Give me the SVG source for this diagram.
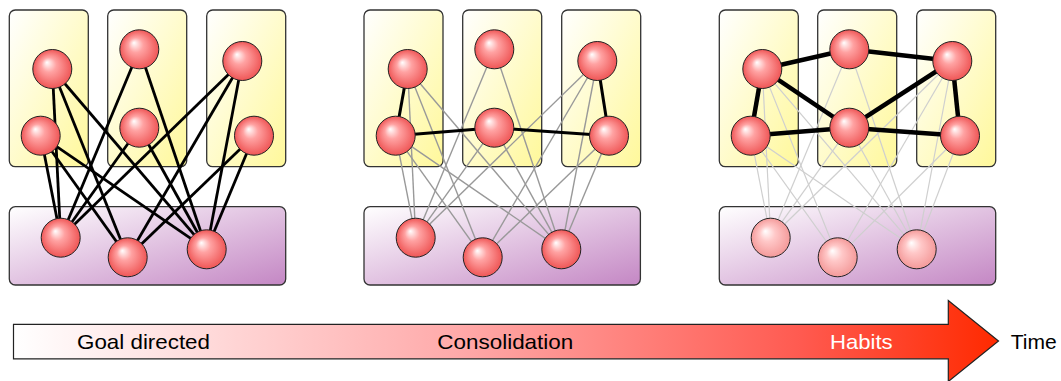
<svg xmlns="http://www.w3.org/2000/svg" width="1061" height="381" viewBox="0 0 1061 381">
<defs>
<linearGradient id="gY" x1="0" y1="0" x2="1" y2="1"><stop offset="0" stop-color="#ffffff"/><stop offset="1" stop-color="#fff89a"/></linearGradient>
<linearGradient id="gP" x1="0" y1="0" x2="1" y2="1"><stop offset="0" stop-color="#ffffff"/><stop offset="1" stop-color="#c487c4"/></linearGradient>
<radialGradient id="gN" cx="0.5" cy="0.5" r="0.5" fx="0.36" fy="0.33"><stop offset="0" stop-color="#ffffff"/><stop offset="0.38" stop-color="#ffa2a2"/><stop offset="1" stop-color="#ef5656"/></radialGradient>
<radialGradient id="gF" cx="0.5" cy="0.5" r="0.5" fx="0.36" fy="0.33"><stop offset="0" stop-color="#ffffff"/><stop offset="0.4" stop-color="#ffc8c8"/><stop offset="1" stop-color="#f49a9a"/></radialGradient>
<linearGradient id="gA" x1="14" y1="0" x2="998" y2="0" gradientUnits="userSpaceOnUse"><stop offset="0" stop-color="#ffffff"/><stop offset="0.45" stop-color="#ffaaaa"/><stop offset="0.8" stop-color="#ff5a50"/><stop offset="1" stop-color="#ff2a00"/></linearGradient>
</defs>
<style>
.by{fill:url(#gY);stroke:#333;stroke-width:1.3}
.bp{fill:url(#gP);stroke:#333;stroke-width:1.3}
.n{fill:url(#gN);stroke:#222;stroke-width:1}
.f{fill:url(#gF);stroke:#222;stroke-width:1}
.k{stroke:#000;stroke-width:2.8;fill:none}
.k2{stroke:#000;stroke-width:3;fill:none}
.k3{stroke:#000;stroke-width:4.5;fill:none}
.g{stroke:#999;stroke-width:1.4;fill:none}
.g3{stroke:#cfcfcf;stroke-width:1.2;fill:none}
.t{font-family:"Liberation Sans",Arial,sans-serif;font-size:21px}
</style>

<g id="regions">
<rect class="by" x="9.3" y="10" width="79" height="156.7" rx="6"/>
<rect class="by" x="107.7" y="10" width="79" height="156.7" rx="6"/>
<rect class="by" x="206.7" y="10" width="79" height="156.7" rx="6"/>
<rect class="bp" x="9.3" y="206.7" width="276.4" height="78.3" rx="6"/>
<rect class="by" x="364" y="10" width="79" height="156.7" rx="6"/>
<rect class="by" x="462.7" y="10" width="79" height="156.7" rx="6"/>
<rect class="by" x="561.7" y="10" width="79" height="156.7" rx="6"/>
<rect class="bp" x="364" y="206.7" width="276.4" height="78.3" rx="6"/>
<rect class="by" x="719.3" y="10" width="79" height="156.7" rx="6"/>
<rect class="by" x="817.7" y="10" width="79" height="156.7" rx="6"/>
<rect class="by" x="916.7" y="10" width="79" height="156.7" rx="6"/>
<rect class="bp" x="719.3" y="206.7" width="276.4" height="78.3" rx="6"/>
</g>

<g id="connectors">
<g class="k">
<line x1="52.3" y1="69" x2="60.7" y2="237.7"/><line x1="52.3" y1="69" x2="127.7" y2="257.3"/><line x1="52.3" y1="69" x2="206.7" y2="249.3"/>
<line x1="40.7" y1="135.7" x2="60.7" y2="237.7"/><line x1="40.7" y1="135.7" x2="127.7" y2="257.3"/><line x1="40.7" y1="135.7" x2="206.7" y2="249.3"/>
<line x1="139.3" y1="49.3" x2="60.7" y2="237.7"/><line x1="139.3" y1="49.3" x2="206.7" y2="249.3"/>
<line x1="139.3" y1="127.7" x2="60.7" y2="237.7"/><line x1="139.3" y1="127.7" x2="206.7" y2="249.3"/>
<line x1="242.3" y1="61" x2="60.7" y2="237.7"/><line x1="242.3" y1="61" x2="127.7" y2="257.3"/><line x1="242.3" y1="61" x2="206.7" y2="249.3"/>
<line x1="254" y1="135.7" x2="127.7" y2="257.3"/><line x1="254" y1="135.7" x2="206.7" y2="249.3"/>
</g>
<g class="g">
<line x1="407.7" y1="69" x2="415.7" y2="237.7"/><line x1="407.7" y1="69" x2="482.7" y2="257.3"/><line x1="407.7" y1="69" x2="561.3" y2="249.3"/>
<line x1="395.7" y1="135.7" x2="415.7" y2="237.7"/><line x1="395.7" y1="135.7" x2="482.7" y2="257.3"/><line x1="395.7" y1="135.7" x2="561.3" y2="249.3"/>
<line x1="494.3" y1="49.3" x2="415.7" y2="237.7"/><line x1="494.3" y1="49.3" x2="561.3" y2="249.3"/>
<line x1="494.3" y1="127.7" x2="415.7" y2="237.7"/><line x1="494.3" y1="127.7" x2="561.3" y2="249.3"/>
<line x1="597.3" y1="61" x2="415.7" y2="237.7"/><line x1="597.3" y1="61" x2="482.7" y2="257.3"/><line x1="597.3" y1="61" x2="561.3" y2="249.3"/>
<line x1="609" y1="135.7" x2="482.7" y2="257.3"/><line x1="609" y1="135.7" x2="561.3" y2="249.3"/>
</g>
<g class="k2">
<line x1="407.7" y1="69" x2="395.7" y2="135.7"/><line x1="395.7" y1="135.7" x2="494.3" y2="127.7"/><line x1="494.3" y1="127.7" x2="609" y2="135.7"/><line x1="597.3" y1="61" x2="609" y2="135.7"/>
</g>
<g class="g3">
<line x1="762.3" y1="69" x2="770.7" y2="237.7"/><line x1="762.3" y1="69" x2="837.7" y2="257.3"/><line x1="762.3" y1="69" x2="916.7" y2="249.3"/>
<line x1="750.7" y1="135.7" x2="770.7" y2="237.7"/><line x1="750.7" y1="135.7" x2="837.7" y2="257.3"/><line x1="750.7" y1="135.7" x2="916.7" y2="249.3"/>
<line x1="849.3" y1="49.3" x2="770.7" y2="237.7"/><line x1="849.3" y1="49.3" x2="916.7" y2="249.3"/>
<line x1="849.3" y1="127.7" x2="770.7" y2="237.7"/><line x1="849.3" y1="127.7" x2="916.7" y2="249.3"/>
<line x1="952.3" y1="61" x2="770.7" y2="237.7"/><line x1="952.3" y1="61" x2="837.7" y2="257.3"/><line x1="952.3" y1="61" x2="916.7" y2="249.3"/>
<line x1="960" y1="135.7" x2="837.7" y2="257.3"/><line x1="960" y1="135.7" x2="916.7" y2="249.3"/>
</g>
<g class="k3">
<line x1="762.3" y1="69" x2="849.3" y2="49.3"/><line x1="849.3" y1="49.3" x2="952.3" y2="61"/>
<line x1="762.3" y1="69" x2="750.7" y2="135.7"/><line x1="762.3" y1="69" x2="849.3" y2="127.7"/>
<line x1="750.7" y1="135.7" x2="849.3" y2="127.7"/><line x1="849.3" y1="127.7" x2="952.3" y2="61"/>
<line x1="849.3" y1="127.7" x2="960" y2="135.7"/><line x1="952.3" y1="61" x2="960" y2="135.7"/>
</g>
</g>

<g id="p1-a1"><circle class="n" cx="52.3" cy="69" r="19.5"/></g>
<g id="p1-a2"><circle class="n" cx="40.7" cy="135.7" r="19.5"/></g>
<g id="p1-b1"><circle class="n" cx="139.3" cy="49.3" r="19.5"/></g>
<g id="p1-b2"><circle class="n" cx="139.3" cy="127.7" r="19.5"/></g>
<g id="p1-c1"><circle class="n" cx="242.3" cy="61" r="19.5"/></g>
<g id="p1-c2"><circle class="n" cx="254" cy="135.7" r="19.5"/></g>
<g id="p1-d1"><circle class="n" cx="60.7" cy="237.7" r="19.5"/></g>
<g id="p1-d2"><circle class="n" cx="127.7" cy="257.3" r="19.5"/></g>
<g id="p1-d3"><circle class="n" cx="206.7" cy="249.3" r="19.5"/></g>

<g id="p2-a1"><circle class="n" cx="407.7" cy="69" r="19.5"/></g>
<g id="p2-a2"><circle class="n" cx="395.7" cy="135.7" r="19.5"/></g>
<g id="p2-b1"><circle class="n" cx="494.3" cy="49.3" r="19.5"/></g>
<g id="p2-b2"><circle class="n" cx="494.3" cy="127.7" r="19.5"/></g>
<g id="p2-c1"><circle class="n" cx="597.3" cy="61" r="19.5"/></g>
<g id="p2-c2"><circle class="n" cx="609" cy="135.7" r="19.5"/></g>
<g id="p2-d1"><circle class="n" cx="415.7" cy="237.7" r="19.5"/></g>
<g id="p2-d2"><circle class="n" cx="482.7" cy="257.3" r="19.5"/></g>
<g id="p2-d3"><circle class="n" cx="561.3" cy="249.3" r="19.5"/></g>

<g id="p3-a1"><circle class="n" cx="762.3" cy="69" r="19.5"/></g>
<g id="p3-a2"><circle class="n" cx="750.7" cy="135.7" r="19.5"/></g>
<g id="p3-b1"><circle class="n" cx="849.3" cy="49.3" r="19.5"/></g>
<g id="p3-b2"><circle class="n" cx="849.3" cy="127.7" r="19.5"/></g>
<g id="p3-c1"><circle class="n" cx="952.3" cy="61" r="19.5"/></g>
<g id="p3-c2"><circle class="n" cx="960" cy="135.7" r="19.5"/></g>
<g id="p3-d1"><circle class="f" cx="770.7" cy="237.7" r="19.5"/></g>
<g id="p3-d2"><circle class="f" cx="837.7" cy="257.3" r="19.5"/></g>
<g id="p3-d3"><circle class="f" cx="916.7" cy="249.3" r="19.5"/></g>

<g id="time-arrow">
<path d="M13.5,324.3 H948.3 V300.5 L998.5,341 L948.3,381.5 V358.8 H13.5 Z" fill="url(#gA)" stroke="#222" stroke-width="1.2" stroke-linejoin="miter"/>
<text class="t" x="143.5" y="348.5" text-anchor="middle" textLength="133" lengthAdjust="spacingAndGlyphs">Goal directed</text>
<text class="t" x="505.3" y="348.5" text-anchor="middle" textLength="136" lengthAdjust="spacingAndGlyphs">Consolidation</text>
<text class="t" x="861.3" y="348.5" text-anchor="middle" fill="#ffffff" textLength="62.7" lengthAdjust="spacingAndGlyphs">Habits</text>
<text class="t" x="1033.7" y="348.5" text-anchor="middle" textLength="46" lengthAdjust="spacingAndGlyphs">Time</text>
</g>
</svg>
